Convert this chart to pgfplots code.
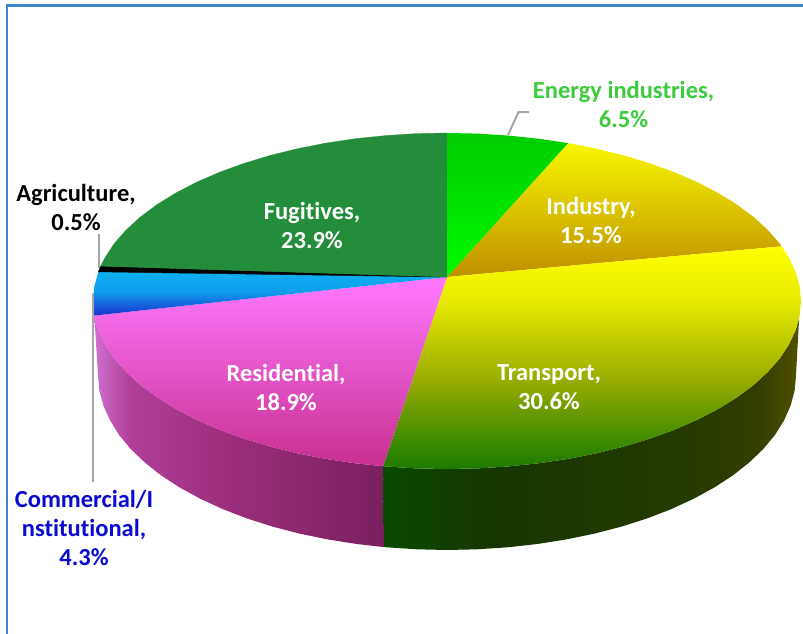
\documentclass[border=0pt]{standalone}
\usepackage{fontspec}
\setmainfont{Carlito}[Ligatures=NoCommon]
\usepackage{pgfplots}
\pgfplotsset{compat=1.18}

\definecolor{framebl}{HTML}{3A86D0}
\definecolor{leader}{HTML}{A6A6A6}
\definecolor{fugit}{HTML}{238D3B}
\definecolor{engreen}{HTML}{3CCB3C}
\definecolor{comblue}{HTML}{0A0AD2}
\definecolor{indtop}{HTML}{F7F700}
\definecolor{indbot}{HTML}{BF8F00}
\definecolor{tr1}{HTML}{1E7B00}
\definecolor{tr2}{HTML}{3F8C00}
\definecolor{tr3}{HTML}{98AC00}
\definecolor{tr4}{HTML}{E8EB00}
\definecolor{tr5}{HTML}{FFFF00}
\definecolor{restop}{HTML}{FF78FF}
\definecolor{resbot}{HTML}{C83090}
\definecolor{comtop}{HTML}{0EB0F0}
\definecolor{commid}{HTML}{0E9CEC}
\definecolor{combot}{HTML}{2030D0}
\definecolor{entop}{HTML}{00CC00}
\definecolor{enbot}{HTML}{00FA00}
\definecolor{rs1}{HTML}{D070D0}
\definecolor{rs2}{HTML}{B04098}
\definecolor{rs3}{HTML}{A03080}
\definecolor{rs4}{HTML}{7A1F5F}
\definecolor{ts1}{HTML}{084A00}
\definecolor{ts2}{HTML}{163600}
\definecolor{ts3}{HTML}{243A00}
\definecolor{ts4}{HTML}{323E00}
\definecolor{ts5}{HTML}{505000}

% side walls, left to right on the page
\pgfdeclarehorizontalshading{ressideshade}{100bp}{
  color(0bp)=(rs1);
  color(25bp)=(rs1);
  color(31bp)=(rs2);
  color(45bp)=(rs3);
  color(75bp)=(rs4);
  color(100bp)=(rs4)}
\pgfdeclarehorizontalshading{trasideshade}{100bp}{
  color(0bp)=(ts1);
  color(25bp)=(ts1);
  color(38bp)=(ts2);
  color(60bp)=(ts3);
  color(70bp)=(ts4);
  color(75bp)=(ts5);
  color(100bp)=(ts5)}
% transport top face, bottom to top
\pgfdeclareverticalshading{tratopshade}{100bp}{
  color(0bp)=(tr1);
  color(25bp)=(tr1);
  color(31.5bp)=(tr2);
  color(45bp)=(tr3);
  color(63bp)=(tr4);
  color(75bp)=(tr5);
  color(100bp)=(tr5)}
\pgfdeclareverticalshading{comtopshade}{100bp}{
  color(0bp)=(combot);
  color(25bp)=(combot);
  color(52bp)=(commid);
  color(75bp)=(comtop);
  color(100bp)=(comtop)}

\tikzset{lab/.style={font=\fontsize{24.5}{29}\selectfont\bfseries, align=center, inner sep=0pt}}

\begin{document}
\begin{tikzpicture}
\begin{axis}[
    scale only axis,
    width=803pt, height=634pt,
    xmin=0, xmax=803,
    ymin=0, ymax=634,
    y dir=reverse,
    hide axis,
]
% keeps the whole canvas in the bounding box
\path (axis cs:0,0) -- (axis cs:803,634);

% frame
\addplot[framebl, line width=2.8pt] coordinates {(7,634)(7,5.3)(803,5.3)};

% side walls
\addplot[draw=none, shade, shading=ressideshade] coordinates {
    (94.3,315.6)(98.4,330.2)(105.1,344.5)(114.3,358.5)(126.2,372.0)(140.4,385.0)(157.0,397.4)
    (175.8,409.0)(196.7,419.8)(219.4,429.7)(243.9,438.6)(270.0,446.5)(297.4,453.3)(325.9,458.9)
    (355.4,463.3)(383.1,466.2)
    (384,547.1)(356.7,544.0)(327.6,539.4)(299.5,533.6)(272.5,526.6)(246.8,518.4)(222.7,509.1)
    (200.2,498.7)(179.7,487.5)(161.1,475.4)(144.8,462.5)(130.7,449.0)(119.0,434.9)(110.0,420.3)
    (103.3,405.4)(99.3,390.3)(98,375)
} -- cycle;
\addplot[draw=none, shade, shading=trasideshade] coordinates {
    (383.1,466.2)(385.5,466.4)(416.1,468.4)(447,469)(477.9,468.4)(508.5,466.4)(538.6,463.3)
    (568.1,458.9)(596.6,453.3)(624.0,446.5)(650.1,438.6)(674.6,429.7)(697.3,419.8)(718.2,409.0)
    (737.0,397.4)(753.6,385.0)(767.8,372.0)(779.7,358.5)(788.9,344.5)(795.6,330.2)(799.1,318.6)
    (796,375)(794.7,390.3)(790.7,405.4)(784.1,420.3)(775.0,434.9)(763.3,449.0)(749.2,462.5)
    (732.9,475.4)(714.3,487.5)(693.8,498.7)(671.3,509.1)(647.2,518.4)(621.5,526.6)(594.5,533.6)
    (566.4,539.4)(537.3,544.0)(507.6,547.3)(477.4,549.3)(447,550)(416.6,549.3)(384,547.1)
} -- cycle;

% top faces
\addplot[draw=none, top color=indtop, bottom color=indbot] coordinates {
    (447,277)(568.1,143.1)(596.6,148.7)(624.0,155.5)(650.1,163.4)(674.6,172.3)(697.3,182.2)
    (718.2,193.0)(737.0,204.6)(753.6,217.0)(767.8,230.0)(779.7,243.5)(781.7,246.3)
} -- cycle;
\addplot[draw=none, shade, shading=tratopshade] coordinates {
    (447,277)(781.7,246.3)(788.9,257.5)(795.6,271.8)(799.7,286.4)(801,301)(799.7,315.6)(795.6,330.2)
    (788.9,344.5)(779.7,358.5)(767.8,372.0)(753.6,385.0)(737.0,397.4)(718.2,409.0)(697.3,419.8)
    (674.6,429.7)(650.1,438.6)(624.0,446.5)(596.6,453.3)(568.1,458.9)(538.6,463.3)(508.5,466.4)
    (477.9,468.4)(447,469)(416.1,468.4)(385.5,466.4)(383.1,466.2)
} -- cycle;
\addplot[draw=none, top color=restop, bottom color=resbot] coordinates {
    (447,277)(383.1,466.2)(355.4,463.3)(325.9,458.9)(297.4,453.3)(270.0,446.5)(243.9,438.6)
    (219.4,429.7)(196.7,419.8)(175.8,409.0)(157.0,397.4)(140.4,385.0)(126.2,372.0)(114.3,358.5)
    (105.1,344.5)(98.4,330.2)(94.3,315.6)
} -- cycle;
\addplot[draw=none, shade, shading=comtopshade] coordinates {
    (447,277)(94.3,315.6)(93,301)(94.3,286.4)(98.4,271.8)
} -- cycle;
\addplot[fill=black, draw=black, line width=0.5pt] coordinates {
    (447,277)(98.4,271.8)(100.7,266.1)
} -- cycle;
\addplot[fill=fugit, draw=fugit, line width=0.3pt] coordinates {
    (447,277)(100.7,266.1)(105.1,257.5)(114.3,243.5)(126.2,230.0)(140.4,217.0)(157.0,204.6)
    (175.8,193.0)(196.7,182.2)(219.4,172.3)(243.9,163.4)(270.0,155.5)(297.4,148.7)(325.9,143.1)
    (355.4,138.7)(385.5,135.6)(416.1,133.6)(447,133)
} -- cycle;
\addplot[draw=none, top color=entop, bottom color=enbot] coordinates {
    (447,277)(447,133)(477.9,133.6)(508.5,135.6)(538.6,138.7)(568.1,143.1)
} -- cycle;

% leader lines
\addplot[leader, line width=2pt] coordinates {(508,135)(518.5,112)(529,112)};
\addplot[leader, line width=2pt] coordinates {(99,234)(99,268)};
\addplot[leader, line width=2pt] coordinates {(93,294)(93,482)};

% labels
\node[lab, text=engreen] at (axis cs:623.5,104.5) {Energy industries,\\6.5\%};
\node[lab, text=white] at (axis cs:591,220.5) {Industry,\\15.5\%};
\node[lab, text=white] at (axis cs:312,225.5) {Fugitives,\\23.9\%};
\node[lab, text=white] at (axis cs:549,387.5) {Transport,\\30.6\%};
\node[lab, text=white] at (axis cs:286,387.5) {Residential,\\18.9\%};
\node[lab, text=black] at (axis cs:76,207.5) {Agriculture,\\0.5\%};
\node[lab, text=comblue] at (axis cs:84,528) {Commercial/I\\nstitutional,\\4.3\%};
\end{axis}
\end{tikzpicture}
\end{document}
